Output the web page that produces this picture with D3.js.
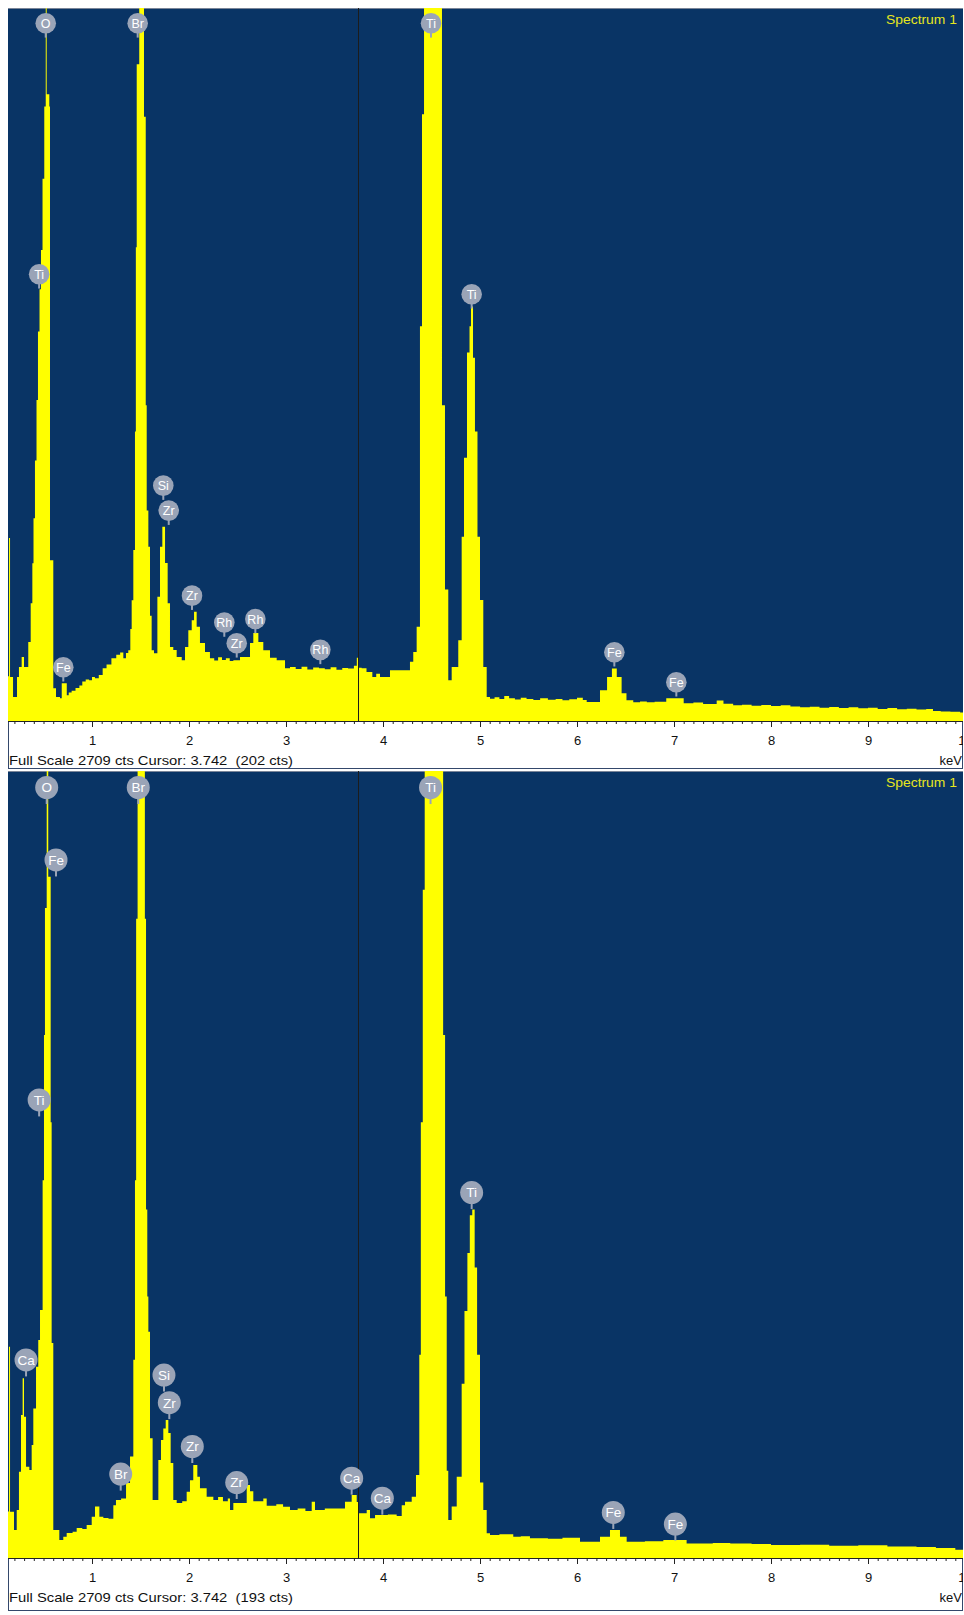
<!DOCTYPE html>
<html><head><meta charset="utf-8">
<script src="https://cdn.jsdelivr.net/npm/d3@7"></script>
<style>body{margin:0;background:#fff;} svg{display:block}</style>
</head><body>
<script>
// ---------- data ----------
const xTicks = [1,2,3,4,5,6,7,8,9,10];
const fullScale = 2709;
const cursorKeV = 3.742;
const cursorCounts = [202, 193];
const spectrumNames = ["Spectrum 1", "Spectrum 1"];

// [keV, counts] (channel start, counts)
const spectrumTop = [
 [0.134,170],[0.144,695],[0.155,167],[0.186,91],[0.227,167],[0.247,205],[0.275,243],[0.299,205],
 [0.343,300],[0.368,447],[0.385,599],[0.397,770],[0.412,990],[0.428,1220],[0.443,1480],[0.459,1640],
 [0.474,1790],[0.490,2060],[0.508,2335],[0.523,2800],[0.533,2381],[0.560,2335],[0.567,611],[0.601,124],
 [0.629,91],[0.670,86],[0.688,143],[0.740,98],[0.760,108],[0.790,115],[0.830,125],[0.870,135],[0.900,150],
 [0.935,158],[0.970,155],[1.000,167],[1.030,162],[1.070,175],[1.110,200],[1.150,215],[1.200,238],[1.250,252],
 [1.290,260],[1.323,238],[1.350,258],[1.374,269],[1.395,350],[1.409,459],[1.426,650],[1.443,1100],[1.452,1800],
 [1.461,2495],[1.487,2800],[1.536,2296],[1.554,1200],[1.564,800],[1.581,662],[1.598,400],[1.615,269],[1.639,257],
 [1.674,472],[1.701,662],[1.725,738],[1.753,600],[1.780,447],[1.804,281],[1.838,270],[1.873,243],[1.925,231],
 [1.959,281],[1.993,345],[2.028,383],[2.052,415],[2.079,358],[2.113,296],[2.165,262],[2.216,238],[2.26,230],
 [2.30,242],[2.34,232],[2.38,238],[2.42,228],[2.457,231],[2.526,243],[2.629,296],[2.663,334],[2.715,300],
 [2.766,269],[2.835,240],[2.904,231],[2.990,200],[3.041,205],[3.10,198],[3.16,206],[3.22,196],[3.28,203],
 [3.34,200],[3.40,197],[3.46,204],[3.52,195],[3.58,201],[3.64,199],[3.70,210],[3.73,240],[3.742,202],
 [3.78,200],[3.83,186],[3.89,167],[3.93,180],[3.969,167],[4.072,193],[4.278,225],[4.312,262],[4.347,358],
 [4.381,1500],[4.402,2305],[4.423,2800],[4.608,1200],[4.639,500],[4.673,155],[4.708,205],[4.776,307],
 [4.811,700],[4.835,1000],[4.866,1400],[4.892,1500],[4.907,1575],[4.928,1380],[4.948,1100],[4.974,700],
 [5.0,460],[5.034,205],[5.069,91],[5.103,85],[5.15,90],[5.20,84],[5.25,95],[5.30,86],[5.36,82],[5.42,88],
 [5.48,84],[5.55,80],[5.62,86],[5.70,81],[5.78,84],[5.85,79],[5.92,83],[6.00,88],[6.06,80],[6.10,72],
 [6.237,117],[6.31,167],[6.36,199],[6.41,167],[6.46,105],[6.51,79],[6.58,71],[6.65,74],[6.72,71],[6.80,73],
 [6.92,86],[7.10,67],[7.2,70],[7.3,65],[7.44,78],[7.51,66],[7.61,60],[7.7,62],[7.8,58],[7.9,61],[8.0,57],
 [8.1,60],[8.2,55],[8.30,52],[8.4,54],[8.5,50],[8.6,53],[8.7,49],[8.8,52],[8.9,48],[9.0,50],[9.1,46],
 [9.2,49],[9.3,45],[9.4,47],[9.5,44],[9.6,46],[9.67,38],[9.75,36],[9.85,35],[9.95,32],[10.0,30]
];

const spectrumBottom = [
 [0.134,160],[0.144,727],[0.155,159],[0.196,96],[0.224,165],[0.247,297],[0.268,492],[0.285,619],[0.299,486],
 [0.320,314],[0.354,303],[0.378,389],[0.395,515],[0.423,658],[0.446,750],[0.464,854],[0.491,1300],[0.505,1800],
 [0.515,2237],[0.533,2800],[0.549,2345],[0.574,1500],[0.584,740],[0.601,96],[0.663,62],[0.704,73],[0.739,86],
 [0.80,90],[0.842,103],[0.90,100],[0.945,114],[0.997,142],[1.031,177],[1.076,142],[1.117,138],[1.17,135],
 [1.220,182],[1.247,200],[1.30,205],[1.351,258],[1.392,349],[1.426,682],[1.443,1300],[1.455,2200],[1.470,2800],
 [1.545,2200],[1.557,1200],[1.570,900],[1.581,779],[1.598,412],[1.625,200],[1.684,337],[1.711,406],[1.735,446],
 [1.760,475],[1.787,430],[1.811,327],[1.838,200],[1.873,189],[1.93,195],[1.976,228],[2.010,268],[2.044,320],
 [2.086,280],[2.113,240],[2.182,211],[2.251,200],[2.30,210],[2.35,195],[2.40,205],[2.423,165],[2.457,189],
 [2.595,251],[2.629,230],[2.663,195],[2.766,205],[2.801,180],[2.90,185],[2.97,176],[3.041,165],[3.12,170],
 [3.20,162],[3.265,194],[3.299,165],[3.40,170],[3.488,170],[3.608,194],[3.677,217],[3.729,193],[3.746,154],
 [3.832,165],[3.866,137],[3.918,148],[4.05,150],[4.141,145],[4.193,182],[4.227,194],[4.296,211],[4.340,286],
 [4.374,700],[4.39,1500],[4.41,2300],[4.43,2800],[4.62,1800],[4.64,900],[4.657,300],[4.673,131],[4.708,177],
 [4.760,280],[4.811,600],[4.84,850],[4.87,1050],[4.895,1180],[4.92,1200],[4.945,1000],[4.97,700],[5.0,260],
 [5.034,165],[5.069,85],[5.103,79],[5.2,82],[5.343,73],[5.42,75],[5.515,68],[5.7,66],[5.85,70],[6.031,56],
 [6.237,73],[6.340,96],[6.443,73],[6.512,56],[6.7,58],[6.89,62],[7.13,50],[7.4,52],[7.58,50],[7.8,48],
 [8.0,45],[8.3,46],[8.6,42],[8.9,44],[9.2,40],[9.5,38],[9.7,34],[9.9,28],[10,27]
];

// [element, keV, counts at stem tip]
const peakLabelsTop = [
 ["O",0.523,2709],["Br",1.471,2709],["Ti",4.495,2709],["Ti",0.455,1643],["Ti",4.914,1567],
 ["Si",1.735,840],["Zr",1.791,745],["Zr",2.031,422],["Rh",2.364,320],["Zr",2.492,241],
 ["Rh",2.684,333],["Rh",3.354,216],["Fe",0.704,150],["Fe",6.385,207],["Fe",7.024,93]
];
const peakLabelsBottom = [
 ["O",0.533,2709],["Br",1.477,2709],["Ti",4.49,2709],["Fe",0.629,2346],["Ti",0.455,1520],
 ["Ca",0.320,625],["Si",1.742,573],["Zr",1.797,478],["Zr",2.034,327],["Br",1.296,232],
 ["Zr",2.492,203],["Ca",3.677,218],["Ca",3.993,149],["Ti",4.914,1201],["Fe",6.374,100],["Fe",7.014,60]
];

// ---------- drawing ----------
const W = 964, H = 1615;
const svg = d3.select("body").append("svg").attr("width", W).attr("height", H);
svg.append("rect").attr("width", W).attr("height", H).attr("fill", "#fff");

const left = 8, right = 963;
const x = d3.scaleLinear().domain([0, 10]).range([-5, 965]);

const panels = [
  {data: spectrumTop, labels: peakLabelsTop, cts: cursorCounts[0], name: spectrumNames[0],
   top: 8, bottom: 721, boxBottom: 769, r: 10.3, stem: 4, fs: 12.5},
  {data: spectrumBottom, labels: peakLabelsBottom, cts: cursorCounts[1], name: spectrumNames[1],
   top: 771, bottom: 1558, boxBottom: 1611, r: 11.5, stem: 5, fs: 13.5}
];

const font = "'Liberation Sans', Arial, sans-serif";

panels.forEach((p, i) => {
  const g = svg.append("g");
  const y = d3.scaleLinear().domain([0, fullScale]).range([p.bottom, p.top]);
  const clipId = "clip" + i;
  svg.append("clipPath").attr("id", clipId).append("rect")
    .attr("x", left).attr("y", p.top).attr("width", right - left).attr("height", p.bottom - p.top);
  const clipAx = "clipax" + i;
  svg.append("clipPath").attr("id", clipAx).append("rect")
    .attr("x", left).attr("y", p.bottom).attr("width", right - left).attr("height", p.boxBottom - p.bottom);

  // axis box
  g.append("rect").attr("x", left + 0.5).attr("y", p.bottom).attr("width", right - left - 1)
    .attr("height", p.boxBottom - p.bottom - 0.5).attr("fill", "#fff").attr("stroke", "#34476b");
  // plot background
  g.append("rect").attr("x", left).attr("y", p.top).attr("width", right - left)
    .attr("height", p.bottom - p.top).attr("fill", "#093465");
  g.append("line").attr("x1", left).attr("x2", right).attr("y1", p.top + 0.5).attr("y2", p.top + 0.5)
    .attr("stroke", "#7a8598");

  // spectrum
  const area = d3.area().curve(d3.curveStepAfter)
    .x(d => x(d[0])).y0(p.bottom).y1(d => y(d[1]));
  g.append("path").datum(p.data).attr("d", area).attr("fill", "#ffff00")
    .attr("clip-path", `url(#${clipId})`);

  // cursor
  g.append("line").attr("x1", Math.round(x(cursorKeV)) + 0.5).attr("x2", Math.round(x(cursorKeV)) + 0.5)
    .attr("y1", p.top).attr("y2", p.bottom).attr("stroke", "#1c1c1c").attr("stroke-width", 1);

  // axis
  const axG = g.append("g").attr("clip-path", `url(#${clipAx})`);
  axG.append("line").attr("x1", left).attr("x2", right).attr("y1", p.bottom + 0.5).attr("y2", p.bottom + 0.5)
    .attr("stroke", "#222");
  const minor = d3.range(1, 101).map(d => d / 10).filter(d => Math.abs(d - Math.round(d)) > 1e-6);
  axG.append("g").attr("transform", `translate(0,${p.bottom})`)
    .call(d3.axisBottom(x).tickValues(minor).tickSize(3).tickFormat(""))
    .call(a => a.select(".domain").remove())
    .call(a => a.selectAll("line").attr("stroke", "#222"));
  axG.append("g").attr("transform", `translate(0,${p.bottom})`)
    .call(d3.axisBottom(x).tickValues(xTicks).tickSize(6).tickPadding(9).tickFormat(d3.format("d")))
    .call(a => a.select(".domain").remove())
    .call(a => a.selectAll("line").attr("stroke", "#222"))
    .call(a => a.selectAll("text").attr("font-family", font).attr("font-size", 13).attr("fill", "#111"));

  // footer
  axG.append("text").attr("x", left + 1).attr("y", p.bottom + 44)
    .attr("font-family", font).attr("font-size", 13).attr("fill", "#111")
    .attr("textLength", 284).attr("lengthAdjust", "spacingAndGlyphs")
    .style("white-space", "pre")
    .text(`Full Scale ${fullScale} cts Cursor: ${cursorKeV.toFixed(3)}  (${p.cts} cts)`);
  axG.append("text").attr("x", right - 1).attr("y", p.bottom + 44).attr("text-anchor", "end")
    .attr("font-family", font).attr("font-size", 13).attr("fill", "#111").text("keV");

  // title
  g.append("text").attr("x", right - 6).attr("y", p.top + 16).attr("text-anchor", "end")
    .attr("font-family", font).attr("font-size", 13).attr("fill", "#e6e61e")
    .attr("textLength", 71).attr("lengthAdjust", "spacingAndGlyphs").text(p.name);

  // peak labels
  const lab = g.selectAll("g.lab").data(p.labels).join("g").attr("class", "lab")
    .attr("transform", d => {
      const tipY = y(d[2]);
      const cy = Math.max(tipY - p.r - p.stem, p.top + p.r + 5);
      return `translate(${x(d[1])},${cy})`;
    });
  lab.append("line").attr("x1", 0).attr("x2", 0).attr("y1", 0).attr("y2", p.r + p.stem)
    .attr("stroke", "#9aa4b7").attr("stroke-width", 2);
  lab.append("circle").attr("r", p.r).attr("fill", "#9aa4b7");
  lab.append("text").attr("text-anchor", "middle").attr("dy", "0.36em")
    .attr("font-family", font).attr("font-size", p.fs).attr("fill", "#fff").text(d => d[0]);
});
</script>
</body></html>
